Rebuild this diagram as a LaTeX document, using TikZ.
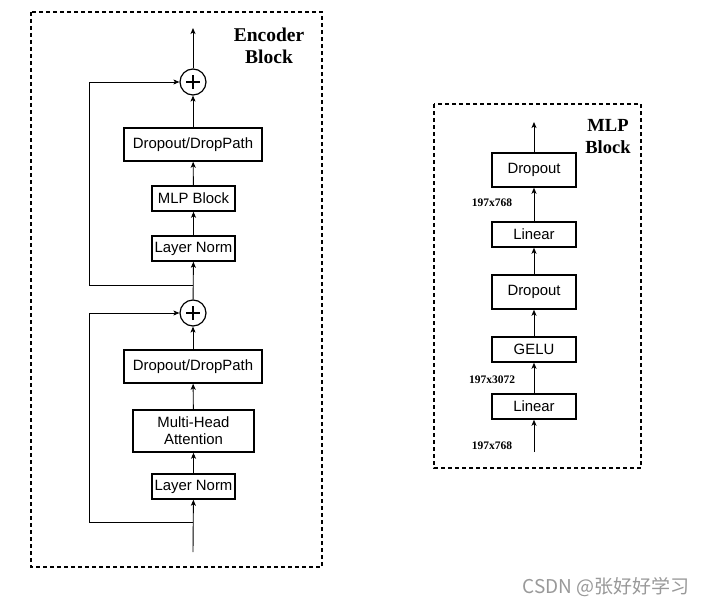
\documentclass[tikz,border=0pt]{standalone}
\usepackage{fontspec}
\setmainfont{Liberation Serif}
\setsansfont{Liberation Sans}
\newfontfamily\cjkfont{Noto Sans CJK SC}
\usetikzlibrary{arrows.meta}
\begin{document}
\begin{tikzpicture}[x=1pt,y=-1pt,
  box/.style={draw,line width=1.5pt,inner sep=0pt,font=\sffamily\fontsize{14.9}{17}\selectfont,align=center},
  wide/.style={box,minimum width=138pt,minimum height=33pt},
  small/.style={box,minimum width=83pt,minimum height=25pt},
  mlpbox/.style={box,minimum width=84pt,minimum height=34pt},
  mlpthin/.style={box,minimum width=84pt,minimum height=25pt},
  addnode/.style={draw,circle,line width=1.2pt,minimum size=26pt,inner sep=0pt,
    path picture={\draw[line width=1.2pt] ([xshift=-7pt]path picture bounding box.center) -- ([xshift=7pt]path picture bounding box.center);
      \draw[line width=1.2pt] ([yshift=-7pt]path picture bounding box.center) -- ([yshift=7pt]path picture bounding box.center);}},
  arr/.style={line width=0.9pt,-{Stealth[length=6pt,width=5pt,inset=1.5pt]}},
  frame/.style={line width=1.6pt,dash pattern=on 4pt off 3pt},
  title/.style={font=\bfseries\fontsize{19.5}{22}\selectfont,align=center},
  dim/.style={font=\bfseries\fontsize{11.5}{13}\selectfont}
]
\useasboundingbox (0,0) rectangle (708,607);
\fill[white] (0,0) rectangle (708,607);

% Encoder block frame
\draw[frame] (31,12) rectangle (322,567);
\node[title] (enctitle) at (269,46) {Encoder\\Block};

\node[addnode] (add2) at (193,82) {};
\node[wide] (dp2) at (193,144.5) {Dropout/DropPath};
\node[small] (mlp) at (193.5,198.5) {MLP Block};
\node[small] (ln2) at (193.5,248.5) {Layer Norm};
\node[addnode] (add1) at (193,313) {};
\node[wide] (dp1) at (193,366.5) {Dropout/DropPath};
\node[box,minimum width=121pt,minimum height=42pt] (mha) at (193.5,431) {Multi-Head\\Attention};
\node[small] (ln1) at (193.5,486.5) {Layer Norm};

\coordinate (in) at (193,552);
\coordinate (b1) at (193,522);
\coordinate (c1) at (89,522);
\coordinate (b2) at (193,285);
\coordinate (c2) at (89,285);
\coordinate (out) at (193,28);

\draw[arr] (in) -- (ln1);
\draw[arr] (b1) -- (c1) |- (add1);
\draw[arr] (ln1) -- (mha);
\draw[arr] (mha) -- (dp1);
\draw[arr] (dp1) -- (add1);
\draw[arr] (add1) -- (ln2);
\draw[arr] (b2) -- (c2) |- (add2);
\draw[arr] (ln2) -- (mlp);
\draw[arr] (mlp) -- (dp2);
\draw[arr] (dp2) -- (add2);
\draw[arr] (add2) -- (out);

% MLP block frame
\draw[frame] (434,104) rectangle (641,468);
\node[title,font=\bfseries\fontsize{18.5}{22}\selectfont] (mlptitle) at (608,137) {MLP\\Block};

\node[mlpbox] (drop2) at (534,170) {Dropout};
\node[mlpthin] (lin2) at (534,234.5) {Linear};
\node[mlpbox] (drop1) at (534,292) {Dropout};
\node[mlpthin] (gelu) at (534,349.5) {GELU};
\node[mlpthin] (lin1) at (534,406.5) {Linear};
\coordinate (in2) at (534,452);
\coordinate (out2) at (534,122);

\draw[arr] (in2) -- (lin1);
\draw[arr] (lin1) -- (gelu);
\draw[arr] (gelu) -- (drop1);
\draw[arr] (drop1) -- (lin2);
\draw[arr] (lin2) -- (drop2);
\draw[arr] (drop2) -- (out2);

\node[dim] (d1) at (492,203) {197x768};
\node[dim] (d2) at (492,380) {197x3072};
\node[dim] (d3) at (492,446) {197x768};

% watermark
\node[font=\cjkfont\fontsize{19}{21}\selectfont,text=black!40] (wm) at (606,587) {CSDN @张好好学习};
\end{tikzpicture}
\end{document}
